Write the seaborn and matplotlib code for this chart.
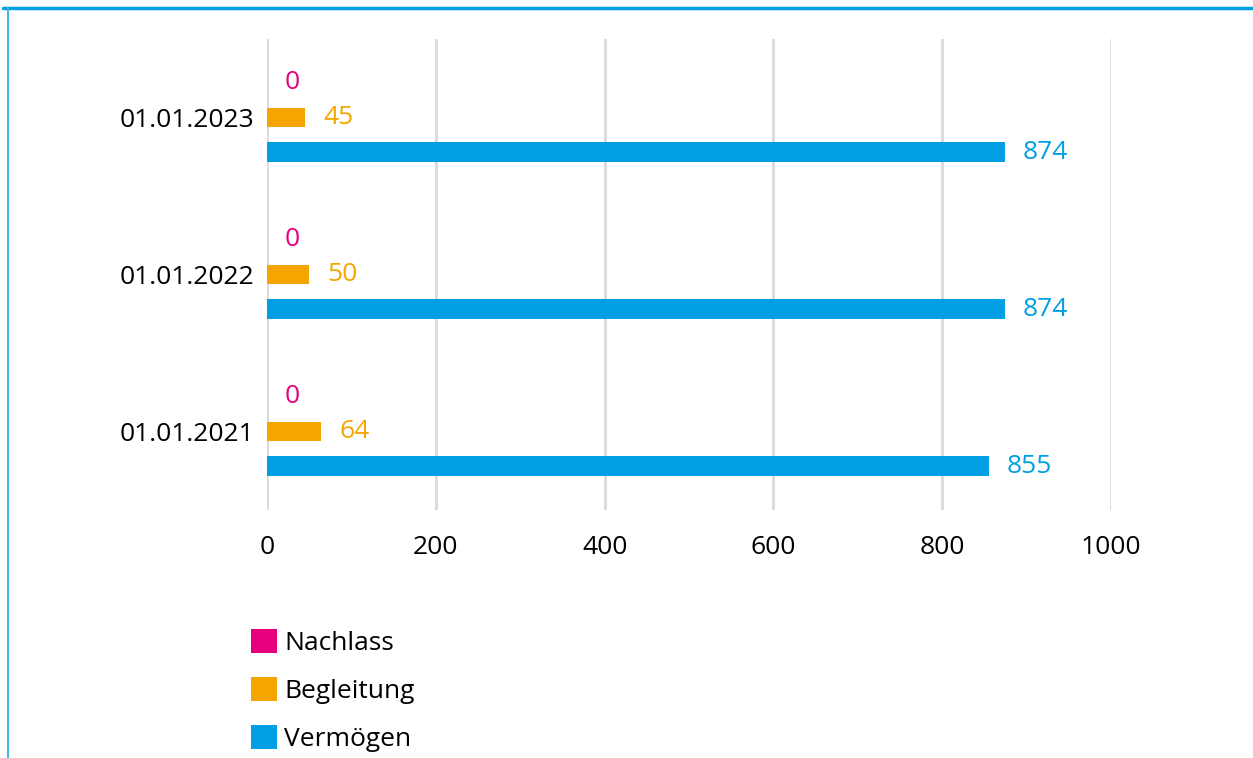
import pandas as pd
import numpy as np
import matplotlib.pyplot as plt
import seaborn as sns
from matplotlib.patches import Patch
from matplotlib.lines import Line2D

dates = ["01.01.2023", "01.01.2022", "01.01.2021"]
series = ["Nachlass", "Begleitung", "Vermögen"]
nachlass = [0, 0, 0]
begleitung = [45, 50, 64]
vermoegen = [874, 874, 855]
colors = ["#e6007e", "#f5a500", "#009fe3"]
xticks = [0, 200, 400, 600, 800, 1000]

df = pd.DataFrame({
    "date": dates * 3,
    "series": ["Nachlass"] * 3 + ["Begleitung"] * 3 + ["Vermögen"] * 3,
    "value": nachlass + begleitung + vermoegen,
})

sns.set_style("white")
plt.rcParams["font.family"] = ["Open Sans", "DejaVu Sans"]

fig = plt.figure(figsize=(12.53, 7.58), dpi=100)
ax = fig.add_axes([0.2131, 0.3272, 0.8867 - 0.2131, 0.9485 - 0.3272])

sns.barplot(data=df, x="value", y="date", hue="series", order=dates,
            hue_order=series, palette=colors, width=0.667, gap=0.43,
            saturation=1, errorbar=None, legend=False, linewidth=0, ax=ax)

# value labels next to each bar
for cont, col in zip(ax.containers, colors):
    ax.bar_label(cont, fmt="%d", padding=13, color=col, fontsize=19)

ax.set_xlim(0, 1000)
ax.set_xticks(xticks)
ax.set_xticklabels([str(t) for t in xticks])
ax.set_xlabel("")
ax.set_ylabel("")
ax.xaxis.grid(True, color="#d9d9d9", linewidth=2)
ax.set_axisbelow(True)
sns.despine(ax=ax, left=True, bottom=True)
ax.tick_params(axis="x", length=0, labelsize=19, pad=18, colors="black")
ax.tick_params(axis="y", length=0, labelsize=19, pad=9, colors="black")

handles = [Patch(facecolor=c, edgecolor="none") for c in colors]
fig.legend(handles, series, loc="upper left",
           bbox_to_anchor=(251 / 1253, 1 - 629 / 758), frameon=False,
           fontsize=19, handlelength=1.0, handleheight=1.0,
           handletextpad=0.25, labelspacing=0.8, borderpad=0,
           borderaxespad=0, labelcolor="black")

# frame lines of the original graphic
fig.add_artist(Line2D([3 / 1253, 1], [1 - 8 / 758, 1 - 8 / 758],
                      color="#009fe3", linewidth=2.5))
fig.add_artist(Line2D([7.5 / 1253, 7.5 / 1253], [0, 1 - 8 / 758],
                      color="#40b8ea", linewidth=1.5))

fig.savefig("out.png", dpi=100)
